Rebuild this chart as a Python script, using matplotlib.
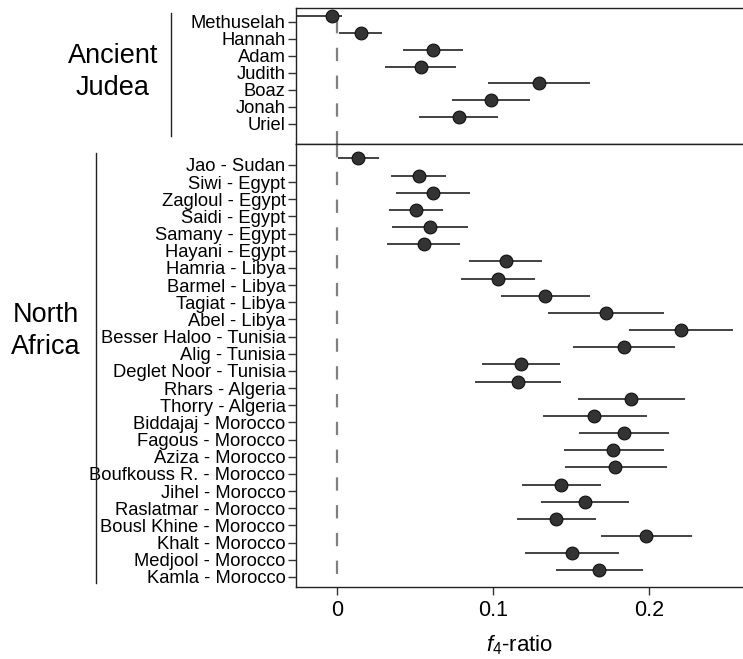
import matplotlib
matplotlib.use("Agg")
import matplotlib.pyplot as plt
from matplotlib.lines import Line2D

plt.rcParams['font.family'] = ['Liberation Sans', 'DejaVu Sans']
plt.rcParams['mathtext.fontset'] = 'custom'
plt.rcParams['mathtext.it'] = 'Liberation Sans:italic'
plt.rcParams['mathtext.rm'] = 'Liberation Sans'

# Ancient Judea samples
judea_names = ['Methuselah', 'Hannah', 'Adam', 'Judith', 'Boaz', 'Jonah', 'Uriel']
judea_f4 = [-0.0036, 0.015, 0.0611, 0.0537, 0.129, 0.0983, 0.0778]
judea_lo = [-0.035, 0.0013, 0.0419, 0.0308, 0.0964, 0.0737, 0.0526]
judea_hi = [0.0028, 0.0287, 0.0808, 0.0763, 0.1618, 0.1233, 0.103]

# North Africa samples
africa_names = ['Jao - Sudan', 'Siwi - Egypt', 'Zagloul - Egypt', 'Saidi - Egypt',
                'Samany - Egypt', 'Hayani - Egypt', 'Hamria - Libya', 'Barmel - Libya',
                'Tagiat - Libya', 'Abel - Libya', 'Besser Haloo - Tunisia',
                'Alig - Tunisia', 'Deglet Noor - Tunisia', 'Rhars - Algeria',
                'Thorry - Algeria', 'Biddajaj - Morocco', 'Fagous - Morocco',
                'Aziza - Morocco', 'Boufkouss R. - Morocco', 'Jihel - Morocco',
                'Raslatmar - Morocco', 'Bousl Khine - Morocco', 'Khalt - Morocco',
                'Medjool - Morocco', 'Kamla - Morocco']
africa_f4 = [0.0135, 0.0522, 0.0611, 0.0504, 0.0594, 0.0554, 0.108, 0.1028,
             0.1333, 0.1722, 0.2201, 0.1838, 0.1176, 0.1156, 0.1883, 0.1648,
             0.1836, 0.1769, 0.1782, 0.1434, 0.1588, 0.1402, 0.1979, 0.1504, 0.168]
africa_lo = [0.0002, 0.0346, 0.0376, 0.0333, 0.0349, 0.0321, 0.0844, 0.0793,
             0.1047, 0.1349, 0.187, 0.1513, 0.0926, 0.0885, 0.1541, 0.1317,
             0.1547, 0.1451, 0.1458, 0.1182, 0.1306, 0.115, 0.1688, 0.1201, 0.14]
africa_hi = [0.0265, 0.0695, 0.0849, 0.068, 0.0836, 0.0787, 0.1312, 0.1267,
             0.1622, 0.2094, 0.2535, 0.2163, 0.143, 0.1436, 0.2227, 0.1985,
             0.2124, 0.2092, 0.2112, 0.1688, 0.1872, 0.1658, 0.2272, 0.1808, 0.1958]

xticks = [0, 0.1, 0.2]
xticklabels = ['0', '0.1', '0.2']

W, H = 743, 659
fig = plt.figure(figsize=(W / 100, H / 100), dpi=100)

left = 295.7 / W
ax1 = fig.add_axes([left, 1 - 144 / H, 1 - left, (144 - 7.7) / H])
ax2 = fig.add_axes([left, 1 - 587.3 / H, 1 - left, (587.3 - 144) / H])

dodge = -0.38  # points sit slightly above their tick in the original


def draw(ax, names, f4, lo, hi, ylim, vline_top):
    ys = [i + dodge for i in range(len(names))]
    for y, m, a, b in zip(ys, f4, lo, hi):
        ax.plot([a, b], [y, y], color='#222222', lw=1.2, zorder=2, solid_capstyle='butt')
    ax.plot(f4, ys, 'o', ms=9.2, mfc='#333333', mec='#111111', mew=0.8, zorder=3)
    ax.plot([0, 0], [vline_top, ylim[0]], color='#808080', lw=1.6,
            dashes=(6, 6.5), zorder=1)
    ax.set_yticks(range(len(names)))
    ax.set_yticklabels(names, fontsize=13.2)
    ax.set_ylim(*ylim)
    ax.set_xlim(-0.0267, 0.260)
    ax.spines['right'].set_visible(False)
    for s in ['left', 'top', 'bottom']:
        ax.spines[s].set_linewidth(1.0)
        ax.spines[s].set_color('#222222')
    ax.tick_params(axis='y', length=5.8, width=1.0, pad=1.5, color='#333333')


draw(ax1, judea_names, judea_f4, judea_lo, judea_hi, (7.18, -0.84), -0.1)
draw(ax2, africa_names, africa_f4, africa_lo, africa_hi, (24.6, -1.22), -1.22)

ax1.set_xticks([])
ax2.set_xticks(xticks)
ax2.set_xticklabels(xticklabels, fontsize=15.5)
ax2.tick_params(axis='x', length=5.8, width=1.0, pad=3, color='#333333')
ax2.set_xlabel(r'$f_{\mathit{4}}$-ratio', fontsize=16, labelpad=9)

# group labels and brackets
fig.text(113 / W, 1 - 72 / H, 'Ancient\nJudea', ha='center', va='center',
         fontsize=19.5, linespacing=1.3)
fig.text(46 / W, 1 - 331 / H, 'North\nAfrica', ha='center', va='center',
         fontsize=19.5, linespacing=1.3)
fig.add_artist(Line2D([171 / W, 171 / W], [1 - 13 / H, 1 - 136 / H],
                      color='#222222', lw=1.0))
fig.add_artist(Line2D([95.7 / W, 95.7 / W], [1 - 152.7 / H, 1 - 583 / H],
                      color='#222222', lw=1.0))

fig.savefig('out.png', dpi=100)
